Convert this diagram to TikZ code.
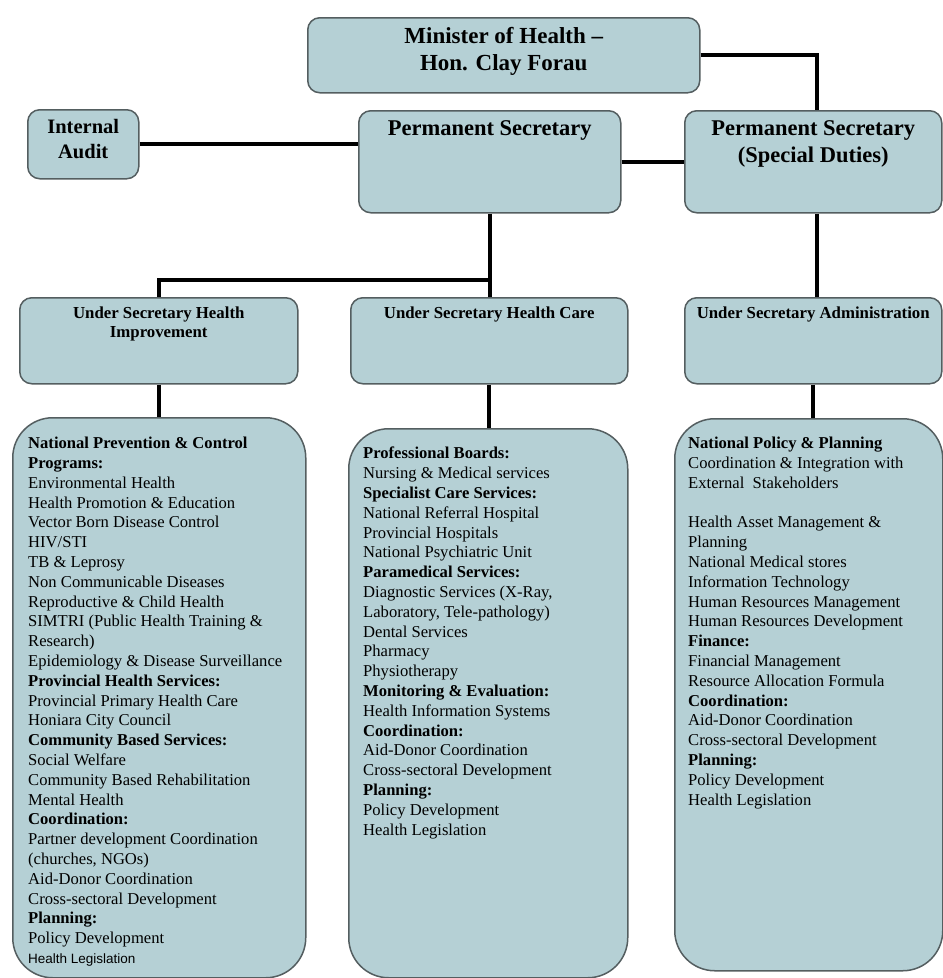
\documentclass[tikz,border=0pt]{standalone}
\usepackage{fontspec}
\setmainfont{Liberation Serif}
\setsansfont{Liberation Sans}
\usetikzlibrary{positioning, calc}
\definecolor{boxfill}{RGB}{181,208,213}
\definecolor{boxline}{RGB}{84,94,96}

\begin{document}
\begin{tikzpicture}[x=1pt, y=-1pt,
    orgbox/.style={draw=boxline, line width=1.5pt, fill=boxfill, rounded corners=12pt,
        anchor=north west, inner sep=0pt},
    bigbox/.style={orgbox, rounded corners=40pt},
    head/.style={align=center, inner sep=0pt, font=\bfseries\fontsize{22.5}{27}\selectfont},
    subhead/.style={align=center, inner sep=0pt, font=\bfseries\fontsize{16.8}{19}\selectfont},
    listtext/.style={align=left, inner sep=0pt, font=\fontsize{16.6}{19.8}\selectfont},
    link/.style={line width=4pt}]
    \useasboundingbox (0,0) rectangle (943,978);

    % Top level
    \node[orgbox, minimum width=392pt, minimum height=75pt,
        label={[head, font=\bfseries\fontsize{23}{27}\selectfont, anchor=north, yshift=-10pt]north:{Minister of Health --\\Hon. Clay Forau}}]
        (minister) at (307,17) {};
    \node[orgbox, minimum width=111pt, minimum height=69pt,
        label={[head, font=\bfseries\fontsize{20.5}{25}\selectfont, anchor=north, yshift=-10pt]north:{Internal\\Audit}}]
        (audit) at (27,109) {};
    \node[orgbox, minimum width=262pt, minimum height=102pt,
        label={[head, anchor=north, yshift=-10pt]north:{Permanent Secretary}}]
        (ps) at (358,110) {};
    \node[orgbox, minimum width=257pt, minimum height=102pt,
        label={[head, anchor=north, yshift=-10pt]north:{Permanent Secretary\\(Special Duties)}}]
        (pssd) at (684,110) {};

    % Under secretaries
    \node[orgbox, minimum width=278pt, minimum height=86pt,
        label={[subhead, anchor=north, yshift=-10pt]north:{Under Secretary Health\\Improvement}}]
        (ushi) at (19,297) {};
    \node[orgbox, minimum width=277pt, minimum height=86pt,
        label={[subhead, anchor=north, yshift=-10pt]north:{Under Secretary Health Care}}]
        (ushc) at (350,297) {};
    \node[orgbox, minimum width=257pt, minimum height=86pt,
        label={[subhead, anchor=north, yshift=-10pt]north:{Under Secretary Administration}}]
        (usadm) at (684,297) {};

    % Divisions
    \node[bigbox, minimum width=293pt, minimum height=560pt] (hibox) at (12,417) {};
    \node[bigbox, minimum width=279pt, minimum height=549pt] (hcbox) at (348,428) {};
    \node[bigbox, minimum width=268pt, minimum height=552pt] (adbox) at (674,418) {};

    \node[listtext, below right=20pt and 16pt of hibox.north west] (hitext) {%
        \textbf{National Prevention \& Control}\\
        \textbf{Programs:}\\
        Environmental Health\\
        Health Promotion \& Education\\
        Vector Born Disease Control\\
        HIV/STI\\
        TB \& Leprosy\\
        Non Communicable Diseases\\
        Reproductive \& Child Health\\
        SIMTRI (Public Health Training \&\\
        Research)\\
        Epidemiology \& Disease Surveillance\\
        \textbf{Provincial Health Services:}\\
        Provincial Primary Health Care\\
        Honiara City Council\\
        \textbf{Community Based Services:}\\
        Social Welfare\\
        Community Based Rehabilitation\\
        Mental Health\\
        \textbf{Coordination:}\\
        Partner development Coordination\\
        (churches, NGOs)\\
        Aid-Donor Coordination\\
        Cross-sectoral Development\\
        \textbf{Planning:}\\
        Policy Development\\
        {\sffamily\fontsize{13.5}{19.8}\selectfont Health Legislation}};

    \node[listtext, below right=19pt and 15pt of hcbox.north west] (hctext) {%
        \textbf{Professional Boards:}\\
        Nursing \& Medical services\\
        \textbf{Specialist Care Services:}\\
        National Referral Hospital\\
        Provincial Hospitals\\
        National Psychiatric Unit\\
        \textbf{Paramedical Services:}\\
        Diagnostic Services (X-Ray,\\
        Laboratory, Tele-pathology)\\
        Dental Services\\
        Pharmacy\\
        Physiotherapy\\
        \textbf{Monitoring \& Evaluation:}\\
        Health Information Systems\\
        \textbf{Coordination:}\\
        Aid-Donor Coordination\\
        Cross-sectoral Development\\
        \textbf{Planning:}\\
        Policy Development\\
        Health Legislation};

    \node[listtext, below right=19pt and 14pt of adbox.north west] (adtext) {%
        \textbf{National Policy \& Planning}\\
        Coordination \& Integration with\\
        External\ \ Stakeholders\\[19.8pt]
        Health Asset Management \&\\
        Planning\\
        National Medical stores\\
        Information Technology\\
        Human Resources Management\\
        Human Resources Development\\
        \textbf{Finance:}\\
        Financial Management\\
        Resource Allocation Formula\\
        \textbf{Coordination:}\\
        Aid-Donor Coordination\\
        Cross-sectoral Development\\
        \textbf{Planning:}\\
        Policy Development\\
        Health Legislation};

    % Links
    \coordinate (split) at ([yshift=-66pt]ps.south);
    \draw[link] (minister.east) -| ([xshift=4pt]pssd.north);
    \draw[link] (audit.east) -- (audit.east -| ps.west);
    \draw[link] (ps.east) -- (pssd.west);
    \draw[link] (ps.south) -- (ps.south |- ushc.north);
    \draw[link] (split) -| (ushi.north);
    \draw[link] ([xshift=4pt]pssd.south) -- ([xshift=4pt]usadm.north);
    \draw[link] (ushi.south) -- (ushi.south |- hibox.north);
    \draw[link] (ushc.south) -- (ushc.south |- hcbox.north);
    \draw[link] (usadm.south) -- (usadm.south |- adbox.north);
\end{tikzpicture}
\end{document}
